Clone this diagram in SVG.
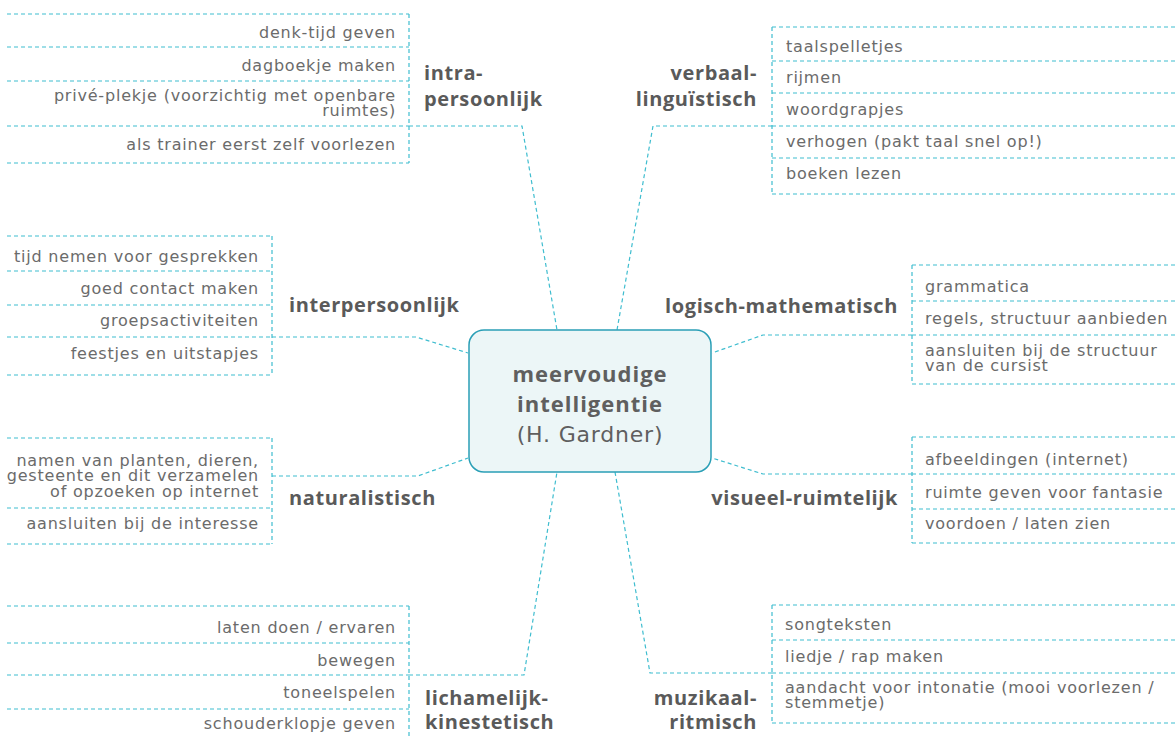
<svg xmlns="http://www.w3.org/2000/svg" width="1176" height="738" viewBox="0 0 1176 738">
<style>
.d{fill:none;stroke:#3fbdcf;stroke-width:1.2;stroke-dasharray:4 3}
.t{font-family:"DejaVu Sans","Liberation Sans",sans-serif;font-size:16px;letter-spacing:0.8px;fill:#6b6b6b}
.r{text-anchor:end}
.l{font-family:"Open Sans","Liberation Sans",sans-serif;font-size:20px;letter-spacing:0.6px;font-weight:700;fill:#5a5a5a}
.c{font-size:22px;fill:#5f5f5f;text-anchor:middle}
.cb{font-family:"Open Sans","Liberation Sans",sans-serif;font-weight:700;letter-spacing:1px}
.cr{font-family:"DejaVu Sans","Liberation Sans",sans-serif;letter-spacing:0.8px}
</style>
<rect width="1176" height="738" fill="#fff"/>
<g id="connectors">
<polyline class="d" points="409,126 522,126 557,330"/>
<polyline class="d" points="772,126 653,126 617,330"/>
<polyline class="d" points="272,337 416,337 468,353"/>
<polyline class="d" points="272,476 418,476 468,458"/>
<polyline class="d" points="912,335 763,335 712,353"/>
<polyline class="d" points="912,474 763,474 712,458"/>
<polyline class="d" points="409,675 524,675 557,472"/>
<polyline class="d" points="772,673 650,673 615,472"/>
</g>
<g id="center">
<rect x="469" y="330" width="242" height="142" rx="15" fill="#ecf6f7" stroke="#2a9fb6" stroke-width="1.5"/>
<text class="c cb" x="590" y="382">meervoudige</text>
<text class="c cb" x="590" y="412">intelligentie</text>
<text class="c cr" x="590" y="442">(H. Gardner)</text>
</g>
<g id="intrapersoonlijk">
<path class="d" d="M7,14H409M7,47H409M7,81H409M7,126H409M7,163H409M409,14V163"/>
<text class="t r" x="396" y="38">denk-tijd geven</text>
<text class="t r" x="396" y="71">dagboekje maken</text>
<text class="t r" x="396" y="101">privé-plekje (voorzichtig met openbare</text>
<text class="t r" x="396" y="116">ruimtes)</text>
<text class="t r" x="396" y="150">als trainer eerst zelf voorlezen</text>
<text class="l" x="424" y="80">intra-</text>
<text class="l" x="424" y="106">persoonlijk</text>
</g>
<g id="verbaal">
<path class="d" d="M772,27H1176M772,61H1176M772,93H1176M772,126H1176M772,158H1176M772,194H1176M772,27V194"/>
<text class="t" x="786" y="52">taalspelletjes</text>
<text class="t" x="786" y="83">rijmen</text>
<text class="t" x="786" y="115">woordgrapjes</text>
<text class="t" x="786" y="147">verhogen (pakt taal snel op!)</text>
<text class="t" x="786" y="179">boeken lezen</text>
<text class="l r" x="757" y="80">verbaal-</text>
<text class="l r" x="757" y="106">linguïstisch</text>
</g>
<g id="interpersoonlijk">
<path class="d" d="M7,236H272M7,271H272M7,305H272M7,337H272M7,375H272M272,236V375"/>
<text class="t r" x="259" y="262">tijd nemen voor gesprekken</text>
<text class="t r" x="259" y="294">goed contact maken</text>
<text class="t r" x="259" y="326">groepsactiviteiten</text>
<text class="t r" x="259" y="359">feestjes en uitstapjes</text>
<text class="l" x="289" y="312">interpersoonlijk</text>
</g>
<g id="logisch">
<path class="d" d="M912,265H1176M912,301H1176M912,335H1176M912,384H1176M912,265V384"/>
<text class="t" x="925" y="292">grammatica</text>
<text class="t" x="925" y="324">regels, structuur aanbieden</text>
<text class="t" x="925" y="356">aansluiten bij de structuur</text>
<text class="t" x="925" y="371">van de cursist</text>
<text class="l r" x="898" y="313">logisch-mathematisch</text>
</g>
<g id="naturalistisch">
<path class="d" d="M7,438H272M7,508H272M7,544H272M272,438V544"/>
<text class="t r" x="259" y="466">namen van planten, dieren,</text>
<text class="t r" x="259" y="481">gesteente en dit verzamelen</text>
<text class="t r" x="259" y="497">of opzoeken op internet</text>
<text class="t r" x="259" y="529">aansluiten bij de interesse</text>
<text class="l" x="289" y="505">naturalistisch</text>
</g>
<g id="visueel">
<path class="d" d="M912,437H1176M912,474H1176M912,509H1176M912,543H1176M912,437V543"/>
<text class="t" x="925" y="465">afbeeldingen (internet)</text>
<text class="t" x="925" y="498">ruimte geven voor fantasie</text>
<text class="t" x="925" y="529">voordoen / laten zien</text>
<text class="l r" x="898" y="505">visueel-ruimtelijk</text>
</g>
<g id="lichamelijk">
<path class="d" d="M7,606H409M7,643H409M7,675H409M7,709H409M409,606V738"/>
<text class="t r" x="396" y="633">laten doen / ervaren</text>
<text class="t r" x="396" y="666">bewegen</text>
<text class="t r" x="396" y="698">toneelspelen</text>
<text class="t r" x="396" y="729">schouderklopje geven</text>
<text class="l" x="425" y="705">lichamelijk-</text>
<text class="l" x="425" y="729">kinestetisch</text>
</g>
<g id="muzikaal">
<path class="d" d="M772,605H1176M772,640H1176M772,673H1176M772,723H1176M772,605V723"/>
<text class="t" x="785" y="630">songteksten</text>
<text class="t" x="785" y="662">liedje / rap maken</text>
<text class="t" x="785" y="693">aandacht voor intonatie (mooi voorlezen /</text>
<text class="t" x="785" y="708">stemmetje)</text>
<text class="l r" x="757" y="705">muzikaal-</text>
<text class="l r" x="757" y="729">ritmisch</text>
</g>
</svg>
